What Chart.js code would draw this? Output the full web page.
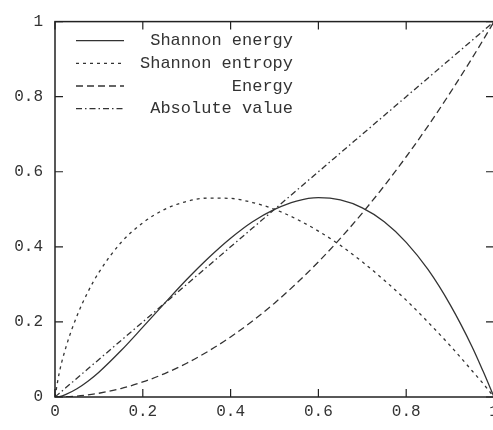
<!DOCTYPE html>
<html>
<head>
<meta charset="utf-8">
<script src="https://cdn.jsdelivr.net/npm/chart.js@4"></script>
<style>
  html, body { margin: 0; padding: 0; background: #fff; overflow: hidden; }
  #wrap { width: 510px; height: 430px; }
</style>
</head>
<body>
<div id="wrap"><canvas id="entropyChart" width="510" height="430"></canvas></div>
<script>
// values
const xs = [0, 0.01, 0.025, 0.05, 0.075, 0.1, 0.15, 0.2, 0.25, 0.3, 0.35, 0.4, 0.45, 0.5, 0.55, 0.6, 0.65, 0.7, 0.75, 0.8, 0.85, 0.9, 0.95, 0.975, 1];
const shannonEnergy = [0, 0.001, 0.007, 0.022, 0.042, 0.066, 0.123, 0.186, 0.25, 0.313, 0.371, 0.423, 0.467, 0.5, 0.522, 0.531, 0.525, 0.504, 0.467, 0.412, 0.339, 0.246, 0.134, 0.069, 0];
const shannonEntropy = [0, 0.066, 0.133, 0.216, 0.28, 0.332, 0.411, 0.464, 0.5, 0.521, 0.53, 0.529, 0.518, 0.5, 0.474, 0.442, 0.404, 0.36, 0.311, 0.258, 0.199, 0.137, 0.07, 0.036, 0];
const energy = [0, 0.0001, 0.0006, 0.0025, 0.0056, 0.01, 0.0225, 0.04, 0.0625, 0.09, 0.1225, 0.16, 0.2025, 0.25, 0.3025, 0.36, 0.4225, 0.49, 0.5625, 0.64, 0.7225, 0.81, 0.9025, 0.9506, 1];
const absValue = [0, 0.01, 0.025, 0.05, 0.075, 0.1, 0.15, 0.2, 0.25, 0.3, 0.35, 0.4, 0.45, 0.5, 0.55, 0.6, 0.65, 0.7, 0.75, 0.8, 0.85, 0.9, 0.95, 0.975, 1];
const labels = ["Shannon energy", "Shannon entropy", "Energy", "Absolute value"];
const tickValues = [0, 0.2, 0.4, 0.6, 0.8, 1];
const tickLabels = ["0", "0.2", "0.4", "0.6", "0.8", "1"];

const ink = "#333";
const dashes = [[], [3, 4], [7, 4], [6, 3, 1.5, 3]];

function toPoints(ys) {
    return xs.map((x, i) => ({ x: x, y: ys[i] }));
}

function tickText(value) {
    const i = tickValues.indexOf(value);
    return i >= 0 ? tickLabels[i] : "";
}

// box, inward ticks and the gnuplot style legend
const framePlugin = {
    id: "frame",
    afterDatasetsDraw(chart) {
        const ctx = chart.ctx;
        const a = chart.chartArea;
        const sx = chart.scales.x, sy = chart.scales.y;
        ctx.save();
        ctx.strokeStyle = "#222";
        ctx.lineWidth = 1.5;
        ctx.setLineDash([]);
        ctx.strokeRect(a.left, a.top, a.right - a.left, a.bottom - a.top);
        ctx.lineWidth = 1.2;
        ctx.beginPath();
        tickValues.forEach(v => {
            const px = sx.getPixelForValue(v);
            ctx.moveTo(px, a.bottom); ctx.lineTo(px, a.bottom - 8);
            ctx.moveTo(px, a.top); ctx.lineTo(px, a.top + 8);
            const py = sy.getPixelForValue(v);
            ctx.moveTo(a.left, py); ctx.lineTo(a.left + 8, py);
            ctx.moveTo(a.right, py); ctx.lineTo(a.right - 8, py);
        });
        ctx.stroke();

        // legend
        ctx.font = "17px 'Liberation Mono', monospace";
        ctx.fillStyle = ink;
        ctx.textAlign = "right";
        ctx.textBaseline = "middle";
        chart.data.datasets.forEach((ds, i) => {
            const y = a.top + 19 + i * 22.7;
            ctx.strokeStyle = ink;
            ctx.lineWidth = 1.3;
            ctx.setLineDash(ds.borderDash);
            ctx.beginPath();
            ctx.moveTo(a.left + 21, y);
            ctx.lineTo(a.left + 69, y);
            ctx.stroke();
            ctx.fillText(ds.label, a.left + 238, y);
        });
        ctx.restore();
    }
};

const series = [shannonEnergy, shannonEntropy, energy, absValue];

new Chart(document.getElementById("entropyChart").getContext("2d"), {
    type: "line",
    data: {
        datasets: series.map((ys, i) => ({
            label: labels[i],
            data: toPoints(ys),
            borderColor: ink,
            borderWidth: 1.3,
            borderDash: dashes[i],
            pointRadius: 0,
            fill: false,
            cubicInterpolationMode: "monotone"
        }))
    },
    options: {
        responsive: false,
        animation: false,
        layout: { padding: { top: 17, right: 16, left: 0, bottom: 0 } },
        plugins: {
            legend: { display: false },
            tooltip: { enabled: false }
        },
        scales: {
            x: {
                type: "linear",
                min: 0,
                max: 1,
                afterBuildTicks: s => { s.ticks = tickValues.map(v => ({ value: v })); },
                afterFit: s => { s.height = 33; },
                grid: { display: false, drawTicks: false },
                border: { display: false },
                ticks: {
                    padding: 5,
                    color: ink,
                    callback: tickText,
                    font: { family: "'Liberation Mono', monospace", size: 16 }
                }
            },
            y: {
                type: "linear",
                min: 0,
                max: 1,
                afterBuildTicks: s => { s.ticks = tickValues.map(v => ({ value: v })); },
                afterFit: s => { s.width = 55; },
                grid: { display: false, drawTicks: false },
                border: { display: false },
                ticks: {
                    padding: 12,
                    color: ink,
                    callback: tickText,
                    font: { family: "'Liberation Mono', monospace", size: 16 }
                }
            }
        }
    },
    plugins: [framePlugin]
});
</script>
</body>
</html>
